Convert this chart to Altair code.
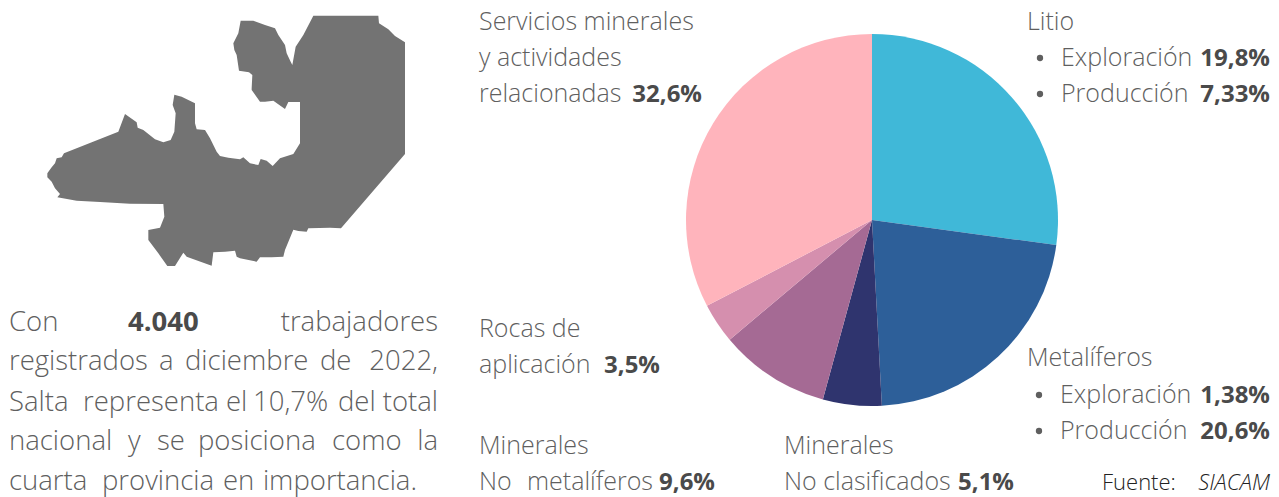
import altair as alt

# Pie data
categorias = ["Litio", "Metalíferos", "Minerales No clasificados", "Minerales No metalíferos",
              "Rocas de aplicación", "Servicios minerales y actividades relacionadas"]
valores = [27.13, 21.98, 5.1, 9.6, 3.5, 32.6]
colores = ["#40B8D8", "#2D5F99", "#2F346E", "#A56A94", "#D58FAE", "#FFB4BC"]
orden = [1, 2, 3, 4, 5, 6]

# Province outline, in units of a 3x tracing of the picture
contorno = [(850,47),(1045,47),(1047,70),(1075,88),(1095,108),(1125,127),(1125,462),(933,685),(900,683),(835,685),
(830,695),(805,693),(790,689),(765,750),(760,770),(725,772),(690,772),(680,785),(630,775),(620,770),(615,752),(585,755),
(550,757),(545,797),(470,770),(460,758),(435,798),(412,798),(385,760),(355,720),(355,690),(390,683),(403,650),(400,612),
(300,611),(210,606),(140,602),(82,592),(90,582),(75,565),(65,545),(52,532),(52,520),(65,502),(75,490),(80,475),(95,472),
(102,460),(265,395),(285,342),(320,367),(323,383),(340,390),(375,418),(400,427),(422,420),(433,395),(437,340),(428,315),
(433,284),(455,290),(495,310),(495,370),(500,388),(525,390),(540,415),(560,455),(570,468),(595,473),(630,478),(640,472),
(660,490),(685,495),(692,477),(710,482),(728,498),(750,475),(790,462),(810,430),(810,306),(775,306),(765,327),(730,302),
(705,305),(690,305),(665,270),(665,265),(667,225),(657,217),(627,212),(620,165),(613,150),(610,130),(625,100),(632,62),
(670,62),(705,75),(735,85),(745,105),(765,135),(770,160),(782,185),(787,195),(797,140),(820,105),(850,47)]

FONT = "Open Sans"
GRIS = "#5f5f5f"
OSCURO = "#4a4a4a"
NEGRO = "#222222"
M = 8

def t(texto, x, y, bold=False, align="left", size=25, color=None, italic=False):
    kw = dict(font=FONT, fontSize=size, align=align, baseline="alphabetic",
              color=color or (OSCURO if bold else GRIS), fontWeight="bold" if bold else 300)
    if italic:
        kw["fontStyle"] = "italic"
    return alt.Chart(alt.Data(values=[{"a": 1}])).mark_text(**kw).encode(
        x=alt.value(x - M), y=alt.value(y - M), text=alt.value(texto))

def b(texto, x, y):
    return t(texto, x, y, True, "right", size=24)

def bala(x, y):
    return alt.Chart(alt.Data(values=[{"a": 1}])).mark_point(filled=True, size=40, color=GRIS, opacity=1).encode(
        x=alt.value(x - M), y=alt.value(y - M))

def p(texto, x, y, align="left"):
    return t(texto, x, y, align=align, size=27.5)

pie_df = alt.Data(values=[{"c": c, "v": v, "o": o} for c, v, o in zip(categorias, valores, orden)])
pie = alt.Chart(pie_df).mark_arc(outerRadius=186).encode(
    theta=alt.Theta("v:Q", stack=True),
    order=alt.Order("o:Q"),
    color=alt.Color("c:N", scale=alt.Scale(domain=categorias, range=colores), legend=None),
    x=alt.value(872 - M), y=alt.value(220 - M))

mapa = alt.Chart(alt.Data(values=[{"type": "Feature", "properties": {},
        "geometry": {"type": "Polygon", "coordinates": [[list(q) for q in contorno]]}}])
    ).mark_geoshape(fill="#737373", stroke=None).project(type="identity", scale=1/3, translate=[30 - M, -M])

R = 1270
textos = [
    t("Servicios minerales", 479, 30), t("y actividades", 479, 66), t("relacionadas", 479, 102), b("32,6%", 702, 102),
    t("Litio", 1027, 30),
    t("Exploración", 1061, 66), b("19,8%", R, 66),
    t("Producción", 1061, 102), b("7,33%", R, 102),
    t("Metalíferos", 1027, 366),
    t("Exploración", 1060, 403), b("1,38%", R, 403),
    t("Producción", 1060, 439), b("20,6%", R, 439),
    t("Rocas de", 479, 337), t("aplicación", 479, 373), b("3,5%", 660, 373),
    t("Minerales", 479, 454), t("No", 479, 490), t("metalíferos", 653, 490, align="right"), b("9,6%", 715, 490),
    t("Minerales", 784, 454), t("No clasificados", 784, 490), b("5,1%", 1014, 490),
    t("Fuente:", 1102, 490, size=22, color=NEGRO), t("SIACAM", R, 490, align="right", size=22, color=NEGRO, italic=True),
    p("Con", 9, 331), t("4.040", 128, 331, True, size=27.5), p("trabajadores", 438, 331, "right"),
    p("registrados", 9, 370), p("a", 159, 370), p("diciembre", 185, 370), p("de", 320, 370), p("2022,", 438, 370, "right"),
    p("Salta", 9, 411), p("representa", 83, 411), p("el", 226, 411), p("10,7%", 253, 411), p("del", 338, 411), p("total", 438, 411, "right"),
    p("nacional", 9, 450), p("y", 128, 450), p("se", 157, 450), p("posiciona", 198, 450), p("como", 332, 450), p("la", 438, 450, "right"),
    p("cuarta", 9, 490), p("provincia", 102, 490), p("en", 223, 490), p("importancia.", 417, 490, "right"),
]
balas = [bala(1040, 58), bala(1040, 94), bala(1039, 395), bala(1039, 431)]

chart = alt.layer(mapa, pie, *textos, *balas).properties(
    width=1263, height=489, padding=0, autosize=alt.AutoSizeParams(type="none")
).configure_view(stroke=None)

chart.save("out.html", embed_options={"renderer": "svg", "actions": False})
